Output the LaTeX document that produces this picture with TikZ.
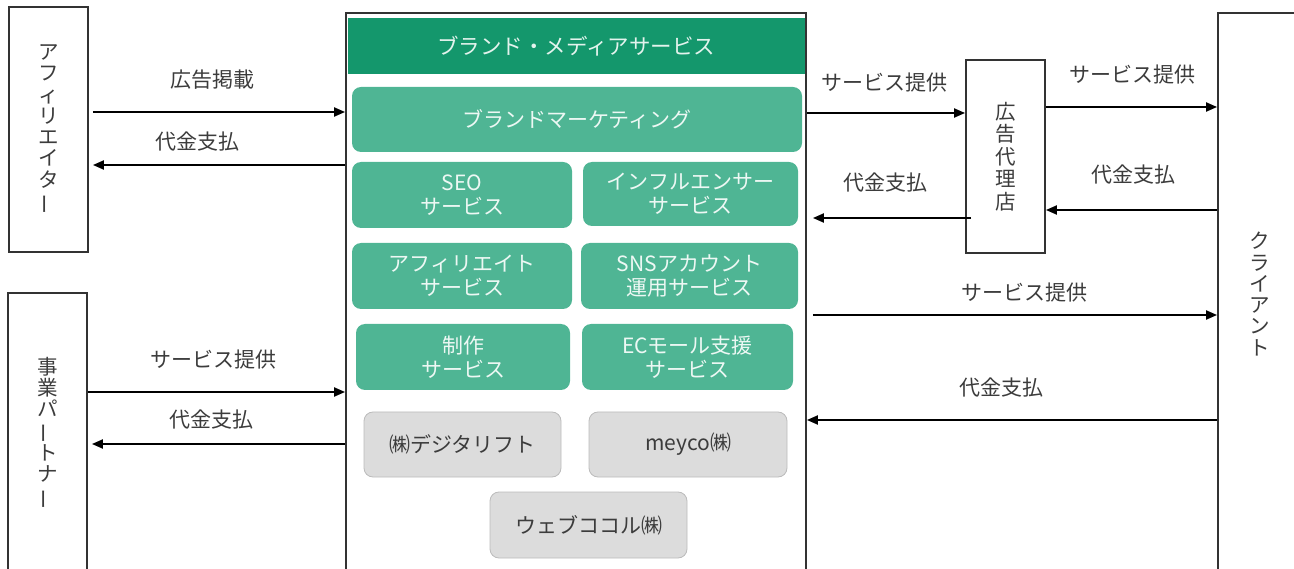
\documentclass[tikz,border=0pt]{standalone}
\usepackage{fontspec}
\setmainfont{Noto Sans CJK JP}
\usetikzlibrary{arrows.meta}
\definecolor{hdrgreen}{HTML}{14976C}
\definecolor{svcgreen}{HTML}{4FB594}
\definecolor{boxgrey}{HTML}{DCDCDC}
\definecolor{txtgrey}{HTML}{3C3C3C}
\newcommand{\vbar}{\rotatebox[origin=c]{90}{ー}}
\begin{document}
\begin{tikzpicture}[x=1pt,y=-1pt,
 frame/.style={draw=black!80,line width=1.8pt,inner sep=0pt},
 vtext/.style={text=txtgrey,font=\fontsize{20.5}{21.3}\selectfont,align=center},
 svcbox/.style={fill=svcgreen,rounded corners=9pt,text=white!90!svcgreen,font=\fontsize{21}{24}\selectfont,align=center,inner sep=0pt},
 grybox/.style={fill=boxgrey,draw=boxgrey!85!black,line width=0.8pt,rounded corners=9pt,text=txtgrey,font=\fontsize{21}{24}\selectfont,align=center,inner sep=0pt},
 lbl/.style={text=txtgrey,font=\fontsize{21}{24}\selectfont,inner sep=0pt},
 arr/.style={line width=2pt,-{Triangle[length=11pt,width=9pt]}},
]
\useasboundingbox (0,0) rectangle (1294,569);

% outer entities
\node[frame,vtext,minimum width=79pt,minimum height=245pt] (aff) at (48.5,129.5) {ア\\フ\\ィ\\リ\\エ\\イ\\タ\\\vbar};
\node[frame,vtext,minimum width=79pt,minimum height=280pt] (bp) at (47.5,433) {事\\業\\パ\\\vbar\\ト\\ナ\\\vbar};
\node[frame,minimum width=460pt,minimum height=590pt] (ctr) at (576,308) {};
\node[frame,vtext,minimum width=79pt,minimum height=193pt,font=\fontsize{20.5}{22.5}\selectfont] (ag) at (1005.5,156.5) {広\\告\\代\\理\\店};
\node[frame,vtext,minimum width=84pt,minimum height=562pt] (cl) at (1260,294) {ク\\ラ\\イ\\ア\\ン\\ト};

% header and services
\node[fill=hdrgreen,minimum width=457pt,minimum height=56pt,inner sep=0pt,text=white!88!hdrgreen,font=\fontsize{21.5}{24}\selectfont] (hdr) at (576,46) {ブランド・メディアサービス};
\node[svcbox,minimum width=450pt,minimum height=65pt] (bm) at (577,119.5) {ブランドマーケティング};
\node[svcbox,minimum width=220pt,minimum height=66pt] (seo) at (462,195) {SEO\\サービス};
\node[svcbox,minimum width=215pt,minimum height=64pt] (inf) at (690.5,194) {インフルエンサー\\サービス};
\node[svcbox,minimum width=220pt,minimum height=66pt] (afs) at (462,276) {アフィリエイト\\サービス};
\node[svcbox,minimum width=217pt,minimum height=66pt] (sns) at (689.5,276) {SNSアカウント\\運用サービス};
\node[svcbox,minimum width=214pt,minimum height=66pt] (prd) at (463,357) {制作\\サービス};
\node[svcbox,minimum width=211pt,minimum height=66pt] (ec) at (687.5,357) {ECモール支援\\サービス};
\node[grybox,minimum width=197pt,minimum height=65pt] (dl) at (462.5,444.5) {㈱デジタリフト};
\node[grybox,minimum width=198pt,minimum height=65pt] (mey) at (688,444.5) {meyco㈱};
\node[grybox,minimum width=197pt,minimum height=66pt] (wc) at (588.5,525) {ウェブココル㈱};

% left arrows
\draw[arr,shorten <=4pt] (aff.east |- 0,112) -- (ctr.west |- 0,112);
\draw[arr,shorten >=4pt] (ctr.west |- 0,165) -- (aff.east |- 0,165);
\draw[arr] (bp.east |- 0,392) -- (ctr.west |- 0,392);
\draw[arr,shorten >=4pt] (ctr.west |- 0,444) -- (bp.east |- 0,444);

% right arrows
\draw[arr] (ctr.east |- 0,113) -- (ag.west |- 0,113);
\draw[arr,shorten <=-6pt,shorten >=6pt] (ag.west |- 0,218) -- (ctr.east |- 0,218);
\draw[arr] (ag.east |- 0,107) -- (cl.west |- 0,107);
\draw[arr] (cl.west |- 0,210) -- (ag.east |- 0,210);
\draw[arr,shorten <=6pt] (ctr.east |- 0,315) -- (cl.west |- 0,315);
\draw[arr] (cl.west |- 0,420) -- (ctr.east |- 0,420);

% labels
\node[lbl] (l1) at (212,80) {広告掲載};
\node[lbl] (l2) at (197,142) {代金支払};
\node[lbl] (l3) at (213,360) {サービス提供};
\node[lbl] (l4) at (211,420) {代金支払};
\node[lbl] (l5) at (884,83) {サービス提供};
\node[lbl] (l6) at (885,183) {代金支払};
\node[lbl] (l7) at (1132,75) {サービス提供};
\node[lbl] (l8) at (1133,175) {代金支払};
\node[lbl] (l9) at (1024,293) {サービス提供};
\node[lbl] (l10) at (1001,388) {代金支払};
\end{tikzpicture}
\end{document}
